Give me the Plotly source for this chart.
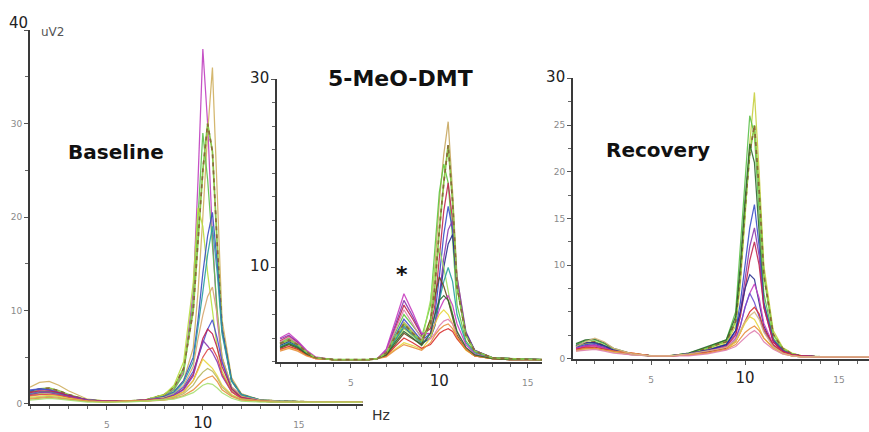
import plotly.graph_objects as go

# ---------------- DATA ----------------
freq_baseline = [1, 1.5, 2, 2.5, 3, 4, 5, 6, 7, 8, 8.5, 9, 9.5, 9.75, 10, 10.25, 10.5, 10.75, 11, 11.5, 12, 13, 14, 16, 18.3]
power_baseline = [
    [1.2, 1.5, 1.6, 1.3, 0.9, 0.4, 0.3, 0.3, 0.4, 0.9, 1.6, 3.5, 12, 24, 38, 30, 18, 9, 4.5, 1.8, 0.9, 0.4, 0.3, 0.2, 0.2],
    [1.8, 2.3, 2.4, 2.0, 1.4, 0.5, 0.3, 0.3, 0.4, 0.8, 1.3, 2.5, 6, 12, 20, 29, 36, 22, 9, 2.8, 1.1, 0.4, 0.3, 0.2, 0.2],
    [1.0, 1.2, 1.3, 1.1, 0.8, 0.4, 0.3, 0.3, 0.4, 0.8, 1.5, 3.2, 11, 20, 29, 24, 17, 10, 5, 1.8, 0.8, 0.4, 0.3, 0.2, 0.2],
    [1.3, 1.6, 1.7, 1.4, 1.0, 0.4, 0.3, 0.3, 0.4, 1.0, 1.8, 3.8, 10, 18, 25, 30, 27, 17, 8, 2.5, 1.0, 0.4, 0.3, 0.2, 0.2],
    [0.9, 1.1, 1.2, 1.0, 0.7, 0.3, 0.3, 0.3, 0.4, 1.0, 2.0, 4.5, 13, 21, 19, 14, 10, 6, 3.5, 1.4, 0.7, 0.3, 0.2, 0.2, 0.2],
    [1.4, 1.6, 1.5, 1.2, 0.9, 0.4, 0.3, 0.3, 0.4, 0.8, 1.3, 2.5, 5, 9, 14, 18, 20.5, 15, 8, 2.5, 1.0, 0.4, 0.3, 0.2, 0.2],
    [1.1, 1.3, 1.3, 1.1, 0.8, 0.4, 0.3, 0.3, 0.4, 0.7, 1.2, 2.3, 4.5, 8, 12, 16, 19, 14, 7.5, 2.4, 1.0, 0.4, 0.3, 0.2, 0.2],
    [0.8, 1.0, 1.1, 0.9, 0.7, 0.3, 0.3, 0.3, 0.4, 0.7, 1.1, 2.0, 4, 7, 9.5, 11.5, 12.5, 9.5, 5, 1.8, 0.8, 0.4, 0.3, 0.2, 0.2],
    [1.5, 1.6, 1.5, 1.2, 0.9, 0.4, 0.3, 0.3, 0.4, 0.6, 1.0, 1.8, 3.5, 5, 6.5, 8, 9, 7, 4.5, 1.6, 0.7, 0.3, 0.2, 0.2, 0.2],
    [1.2, 1.4, 1.4, 1.2, 0.9, 0.4, 0.3, 0.3, 0.4, 0.6, 0.9, 1.6, 3.2, 5, 7, 8, 7.5, 6, 4, 1.6, 0.7, 0.3, 0.2, 0.2, 0.2],
    [1.0, 1.2, 1.2, 1.0, 0.8, 0.4, 0.3, 0.3, 0.4, 0.6, 0.9, 1.5, 3, 4.8, 6.8, 6.2, 5.5, 4.5, 3, 1.3, 0.6, 0.3, 0.2, 0.2, 0.2],
    [0.9, 1.0, 1.0, 0.9, 0.7, 0.3, 0.3, 0.3, 0.4, 0.5, 0.8, 1.3, 2.5, 3.8, 5, 5.8, 6, 5, 3.2, 1.3, 0.6, 0.3, 0.2, 0.2, 0.2],
    [0.7, 0.8, 0.9, 0.8, 0.6, 0.3, 0.2, 0.3, 0.3, 0.5, 0.8, 1.3, 2.5, 3.6, 4.8, 4.3, 3.8, 3, 2, 1.0, 0.5, 0.3, 0.2, 0.2, 0.2],
    [0.6, 0.7, 0.8, 0.7, 0.5, 0.3, 0.2, 0.3, 0.3, 0.5, 0.7, 1.1, 2.0, 2.8, 3.4, 3.8, 3.5, 2.8, 1.8, 0.9, 0.5, 0.3, 0.2, 0.2, 0.2],
    [0.5, 0.6, 0.7, 0.6, 0.5, 0.3, 0.2, 0.3, 0.3, 0.4, 0.6, 0.9, 1.5, 2.0, 2.5, 2.8, 3.0, 2.4, 1.5, 0.8, 0.4, 0.3, 0.2, 0.2, 0.2],
    [0.4, 0.5, 0.6, 0.5, 0.4, 0.2, 0.2, 0.2, 0.3, 0.4, 0.5, 0.8, 1.2, 1.6, 2.0, 2.2, 2.1, 1.7, 1.2, 0.6, 0.3, 0.2, 0.2, 0.2, 0.2],
]

freq_dmt = [1, 1.5, 2, 2.5, 3, 4, 5, 6, 6.5, 7, 7.5, 8, 8.5, 9, 9.5, 9.75, 10, 10.25, 10.5, 10.75, 11, 11.5, 12, 13, 14, 15.8]
power_dmt = [
    [1.8, 2.2, 1.7, 0.9, 0.4, 0.2, 0.2, 0.2, 0.3, 0.8, 2.5, 4.2, 3.2, 2.2, 4.5, 10, 17, 22, 25.5, 18, 9, 3, 1.2, 0.4, 0.3, 0.2],
    [2.0, 2.5, 1.9, 1.0, 0.4, 0.2, 0.2, 0.2, 0.3, 1.0, 3.0, 5.0, 3.8, 2.6, 6, 12, 18, 21, 19, 13, 6, 2.2, 1.0, 0.4, 0.3, 0.2],
    [2.2, 2.7, 2.0, 1.1, 0.4, 0.2, 0.2, 0.2, 0.3, 1.1, 3.5, 6.0, 4.5, 2.8, 3.5, 6, 11, 16, 19, 15, 8, 2.8, 1.1, 0.4, 0.3, 0.2],
    [1.9, 2.3, 1.8, 1.0, 0.4, 0.2, 0.2, 0.2, 0.3, 0.9, 2.7, 4.5, 3.4, 2.2, 3.0, 5, 9, 13.5, 16.5, 14, 8, 3, 1.2, 0.4, 0.3, 0.2],
    [2.4, 2.8, 2.1, 1.1, 0.4, 0.2, 0.2, 0.2, 0.3, 1.2, 3.8, 6.5, 4.8, 2.9, 3.0, 4, 7, 11, 14, 15, 9, 3.2, 1.2, 0.4, 0.3, 0.2],
    [1.7, 2.1, 1.6, 0.9, 0.4, 0.2, 0.2, 0.2, 0.3, 0.8, 2.2, 3.6, 2.8, 1.9, 2.5, 3.8, 6.5, 10, 12.5, 13.5, 8, 3, 1.1, 0.4, 0.3, 0.2],
    [1.5, 1.9, 1.5, 0.8, 0.4, 0.2, 0.2, 0.2, 0.3, 0.8, 2.1, 3.5, 2.7, 2.0, 6.5, 10, 12, 10, 7.5, 5, 3, 1.4, 0.7, 0.3, 0.2, 0.2],
    [1.6, 2.0, 1.6, 0.9, 0.4, 0.2, 0.2, 0.2, 0.3, 0.8, 2.3, 3.8, 2.9, 2.0, 2.6, 4, 6.5, 8.5, 10, 8.5, 5, 2, 0.9, 0.4, 0.3, 0.2],
    [1.4, 1.8, 1.4, 0.8, 0.4, 0.2, 0.2, 0.2, 0.3, 0.7, 1.8, 3.0, 2.4, 1.8, 4.5, 7, 9, 8, 6.5, 4.5, 2.8, 1.3, 0.6, 0.3, 0.2, 0.2],
    [2.5, 3.0, 2.2, 1.2, 0.5, 0.2, 0.2, 0.2, 0.3, 1.3, 4.2, 7.2, 5.2, 3.0, 3.0, 4, 5.5, 6.5, 7, 6, 4, 1.8, 0.8, 0.3, 0.2, 0.2],
    [1.2, 1.5, 1.2, 0.7, 0.3, 0.2, 0.2, 0.2, 0.3, 0.6, 1.3, 2.0, 1.7, 1.3, 2.5, 4, 5, 5.5, 5, 4, 2.5, 1.2, 0.6, 0.3, 0.2, 0.2],
    [2.1, 2.6, 1.9, 1.0, 0.4, 0.2, 0.2, 0.2, 0.3, 1.0, 3.3, 5.5, 4.0, 2.4, 2.4, 3, 3.8, 4.3, 4.5, 4, 3, 1.5, 0.7, 0.3, 0.2, 0.2],
    [1.3, 1.6, 1.3, 0.7, 0.3, 0.2, 0.2, 0.2, 0.3, 0.6, 1.6, 2.5, 2.0, 1.4, 1.8, 2.4, 3.0, 3.3, 3.5, 3.2, 2.4, 1.3, 0.6, 0.3, 0.2, 0.2],
    [1.1, 1.4, 1.1, 0.6, 0.3, 0.2, 0.2, 0.2, 0.3, 0.5, 1.2, 1.8, 1.5, 1.2, 2.0, 2.8, 3.4, 3.8, 4, 3.5, 2.6, 1.3, 0.6, 0.3, 0.2, 0.2],
    [1.5, 1.9, 1.5, 0.8, 0.4, 0.2, 0.2, 0.2, 0.3, 0.7, 2.0, 3.2, 2.5, 1.7, 3, 5, 6.5, 7, 6.5, 5, 3.2, 1.5, 0.7, 0.3, 0.2, 0.2],
    [1.9, 2.3, 1.8, 1.0, 0.4, 0.2, 0.2, 0.2, 0.3, 0.9, 2.6, 4.0, 3.0, 2.2, 4, 8, 14, 19, 23, 17, 8, 2.8, 1.1, 0.4, 0.3, 0.2],
]

freq_recovery = [1, 1.5, 2, 2.5, 3, 4, 5, 6, 7, 8, 8.5, 9, 9.5, 9.75, 10, 10.25, 10.5, 10.75, 11, 11.5, 12, 12.5, 13, 14, 15, 16.6]
power_recovery = [
    [1.2, 1.6, 1.7, 1.3, 0.9, 0.5, 0.3, 0.3, 0.5, 1.0, 1.3, 1.6, 3.5, 8, 15, 23, 28.5, 20, 10, 3, 1.2, 0.6, 0.3, 0.2, 0.2, 0.2],
    [1.5, 1.9, 2.0, 1.6, 1.0, 0.5, 0.3, 0.3, 0.6, 1.2, 1.6, 2.0, 5, 12, 20, 26, 24, 15, 7, 2.2, 1.0, 0.5, 0.3, 0.2, 0.2, 0.2],
    [1.3, 1.7, 1.8, 1.4, 0.9, 0.5, 0.3, 0.3, 0.5, 1.1, 1.5, 1.8, 4, 9, 16, 22, 25, 18, 9, 2.6, 1.1, 0.5, 0.3, 0.2, 0.2, 0.2],
    [1.6, 2.0, 2.1, 1.7, 1.1, 0.5, 0.3, 0.3, 0.6, 1.3, 1.7, 2.0, 4.5, 10, 17, 23, 21, 13, 6, 2, 0.9, 0.4, 0.3, 0.2, 0.2, 0.2],
    [1.2, 1.5, 1.6, 1.3, 0.9, 0.5, 0.3, 0.3, 0.5, 0.9, 1.2, 1.5, 3, 6, 10, 14, 16.5, 12, 6, 2, 0.9, 0.4, 0.3, 0.2, 0.2, 0.2],
    [1.1, 1.4, 1.5, 1.2, 0.8, 0.5, 0.3, 0.3, 0.5, 0.9, 1.1, 1.4, 2.7, 5, 8.5, 12, 14, 11, 5.5, 1.8, 0.8, 0.4, 0.3, 0.2, 0.2, 0.2],
    [1.0, 1.3, 1.4, 1.1, 0.8, 0.5, 0.3, 0.3, 0.4, 0.8, 1.0, 1.3, 2.5, 4.5, 7.5, 10.5, 12.5, 10, 5.5, 1.8, 0.8, 0.4, 0.3, 0.2, 0.2, 0.2],
    [1.4, 1.7, 1.7, 1.4, 0.9, 0.5, 0.3, 0.3, 0.5, 0.9, 1.2, 1.5, 3, 5, 7.5, 9, 8.5, 6, 3.5, 1.4, 0.7, 0.4, 0.3, 0.2, 0.2, 0.2],
    [1.1, 1.3, 1.4, 1.1, 0.8, 0.5, 0.3, 0.3, 0.4, 0.8, 1.0, 1.2, 2.2, 3.5, 5.5, 7, 8, 6.5, 3.8, 1.5, 0.7, 0.4, 0.3, 0.2, 0.2, 0.2],
    [0.9, 1.1, 1.2, 1.0, 0.7, 0.4, 0.3, 0.3, 0.4, 0.7, 0.9, 1.1, 2.0, 3.5, 5.5, 7, 6, 4.5, 3, 1.3, 0.6, 0.3, 0.2, 0.2, 0.2, 0.2],
    [1.0, 1.2, 1.2, 1.0, 0.8, 0.6, 0.3, 0.3, 0.4, 0.7, 0.9, 1.1, 1.8, 2.8, 4, 5, 5.5, 4.8, 3.2, 1.5, 0.7, 0.4, 0.3, 0.2, 0.2, 0.2],
    [0.8, 1.0, 1.1, 0.9, 0.7, 0.4, 0.3, 0.3, 0.4, 0.6, 0.8, 1.0, 1.8, 2.8, 3.8, 4.5, 4.2, 3.3, 2.2, 1.1, 0.5, 0.3, 0.2, 0.2, 0.2, 0.2],
    [0.9, 1.1, 1.1, 0.9, 0.8, 0.6, 0.3, 0.3, 0.4, 0.6, 0.8, 1.0, 1.5, 2.2, 2.8, 3.2, 3.5, 3.0, 2.2, 1.2, 0.6, 0.3, 0.2, 0.2, 0.2, 0.2],
    [0.8, 0.9, 1.0, 0.8, 0.6, 0.4, 0.3, 0.3, 0.3, 0.5, 0.7, 0.9, 1.3, 1.8, 2.3, 2.7, 3.0, 2.6, 1.8, 1.0, 0.5, 0.3, 0.2, 0.2, 0.2, 0.2],
    [1.3, 1.8, 2.2, 1.8, 1.1, 0.5, 0.3, 0.3, 0.5, 0.8, 1.0, 1.2, 2, 3, 4, 4.6, 5, 4.2, 2.8, 1.3, 0.6, 0.3, 0.2, 0.2, 0.2, 0.2],
]

panel_titles = ["Baseline", "5-MeO-DMT", "Recovery"]
x_tick_values = [5, 10, 15]

# ---------------- STYLE ----------------
DASHED = ("#8cc84a", "#8a6a3a")
colors_baseline = ["#c040c0", "#d0b060", "#5cc04a", DASHED, "#b8e040", "#3a4fc0", "#2aa0a0", "#d8a870",
                   "#4a50d0", "#c02050", "#8a3ab0", "#e04848", "#e8d840", "#b8b860", "#e89040", "#a8e070"]
colors_dmt = ["#c8a860", "#60c840", "#c02850", "#3a50c8", "#8a3ab0", "#2a3090", "#a0e060", "#2aa0a0",
              "#6a4a20", "#c840c0", "#e8d840", "#e080b0", "#d83030", "#e89040", "#2f6a2f", DASHED]
colors_recovery = ["#c8d040", "#5cc04a", DASHED, "#2f6a2f", "#3a50c8", "#8a3ab0", "#c02850", "#2a3090",
                   "#c840c0", "#6a50d0", "#d83030", "#e8d840", "#e89040", "#e080b0", "#d8b880"]

W, H = 869, 432


def xdom(a, b):
    return [a / W, b / W]


def ydom(bottom, top):
    return [(H - bottom) / H, (H - top) / H]


fig = go.Figure()

panels = [
    (freq_baseline, power_baseline, colors_baseline, "x", "y"),
    (freq_dmt, power_dmt, colors_dmt, "x2", "y2"),
    (freq_recovery, power_recovery, colors_recovery, "x3", "y3"),
]
for freqs, rows, cols, xa, ya in panels:
    for row, c in zip(rows, cols):
        if isinstance(c, tuple):
            fig.add_trace(go.Scatter(x=freqs, y=row, mode="lines", xaxis=xa, yaxis=ya,
                                     line=dict(color=c[0], width=1.7), hoverinfo="skip"))
            fig.add_trace(go.Scatter(x=freqs, y=row, mode="lines", xaxis=xa, yaxis=ya,
                                     line=dict(color=c[1], width=1.7, dash="4px,4px"), hoverinfo="skip"))
        else:
            fig.add_trace(go.Scatter(x=freqs, y=row, mode="lines", xaxis=xa, yaxis=ya,
                                     line=dict(color=c, width=1.25), opacity=0.9, hoverinfo="skip"))

SMALL = dict(family="DejaVu Sans", size=9, color="#8a8a8a")
BIGX = dict(family="DejaVu Sans", size=15, color="#222")


def big(t, size=15):
    return f'<span style="font-size:{size}px;color:#222">{t}</span>'


def small(t):
    return f'<span style="font-size:9px;color:#8a8a8a">{t}</span>'


x_ticktext = [small(x_tick_values[0]), str(x_tick_values[1]), small(x_tick_values[2])]

axis_common = dict(showgrid=False, zeroline=False, showline=True, linecolor="#3a3a3a", linewidth=2,
                   ticks="outside", ticklen=4, tickcolor="#555", tickfont=SMALL, layer="above traces")
MINOR_X = dict(dtick=1, ticks="outside", ticklen=3, tickcolor="#666")

fig.update_layout(
    width=W, height=H, margin=dict(l=0, r=0, t=0, b=0),
    paper_bgcolor="white", plot_bgcolor="rgba(0,0,0,0)", showlegend=False,
    xaxis=dict(axis_common, domain=xdom(30, 363), range=[1, 18.34], anchor="y", tickfont=BIGX,
               tickvals=x_tick_values, ticktext=x_ticktext, minor=MINOR_X),
    yaxis=dict(axis_common, domain=ydom(408, 20), range=[0, 40], anchor="x",
               tickvals=[0, 10, 20, 30, 40], ticktext=["0", "10", "20", "30", ""],
               minor=dict(dtick=5, ticks="outside", ticklen=3, tickcolor="#666")),
    xaxis2=dict(axis_common, domain=xdom(277, 542), range=[0.83, 15.8], anchor="y2", tickfont=BIGX,
                tickvals=x_tick_values, ticktext=x_ticktext, minor=MINOR_X),
    yaxis2=dict(axis_common, domain=ydom(364, 71), range=[0, 30], anchor="x2",
                tickvals=[10, 30], ticktext=[big("10"), big("30")],
                minor=dict(dtick=2.5, ticks="outside", ticklen=3, tickcolor="#666")),
    xaxis3=dict(axis_common, domain=xdom(573, 869), range=[0.84, 16.6], anchor="y3", tickfont=BIGX,
                tickvals=x_tick_values, ticktext=x_ticktext, minor=MINOR_X),
    yaxis3=dict(axis_common, domain=ydom(361, 70), range=[0, 30], anchor="x3",
                tickvals=[0, 10, 15, 20, 25, 30], ticktext=["0", "10", "15", "20", "25", big("30")],
                minor=dict(dtick=2.5, ticks="outside", ticklen=3, tickcolor="#666")),
)

TITLE_FONT = dict(family="DejaVu Sans", color="#111")
annots = [
    dict(text="<b>" + panel_titles[0] + "</b>", x=116 / W, y=(H - 146) / H, font=dict(TITLE_FONT, size=20)),
    dict(text="<b>" + panel_titles[1] + "</b>", x=400 / W, y=(H - 70) / H, font=dict(TITLE_FONT, size=22)),
    dict(text="<b>" + panel_titles[2] + "</b>", x=658 / W, y=(H - 144) / H, font=dict(TITLE_FONT, size=20)),
    dict(text="<b>*</b>", x=402 / W, y=(H - 274) / H, font=dict(TITLE_FONT, size=22)),
    dict(text="40", x=18 / W, y=(H - 12) / H, font=dict(family="DejaVu Sans", size=15, color="#222")),
    dict(text="uV2", x=52 / W, y=(H - 22) / H, font=dict(family="DejaVu Sans", size=12, color="#555")),
    dict(text="Hz", x=381 / W, y=(H - 420) / H, font=dict(family="DejaVu Sans", size=14, color="#333")),
]
for a in annots:
    fig.add_annotation(xref="paper", yref="paper", showarrow=False, xanchor="center", yanchor="middle", **a)

fig.write_html("out.html", config={"displayModeBar": False},
               post_script="document.body.style.margin='0';document.body.style.overflow='hidden';")
